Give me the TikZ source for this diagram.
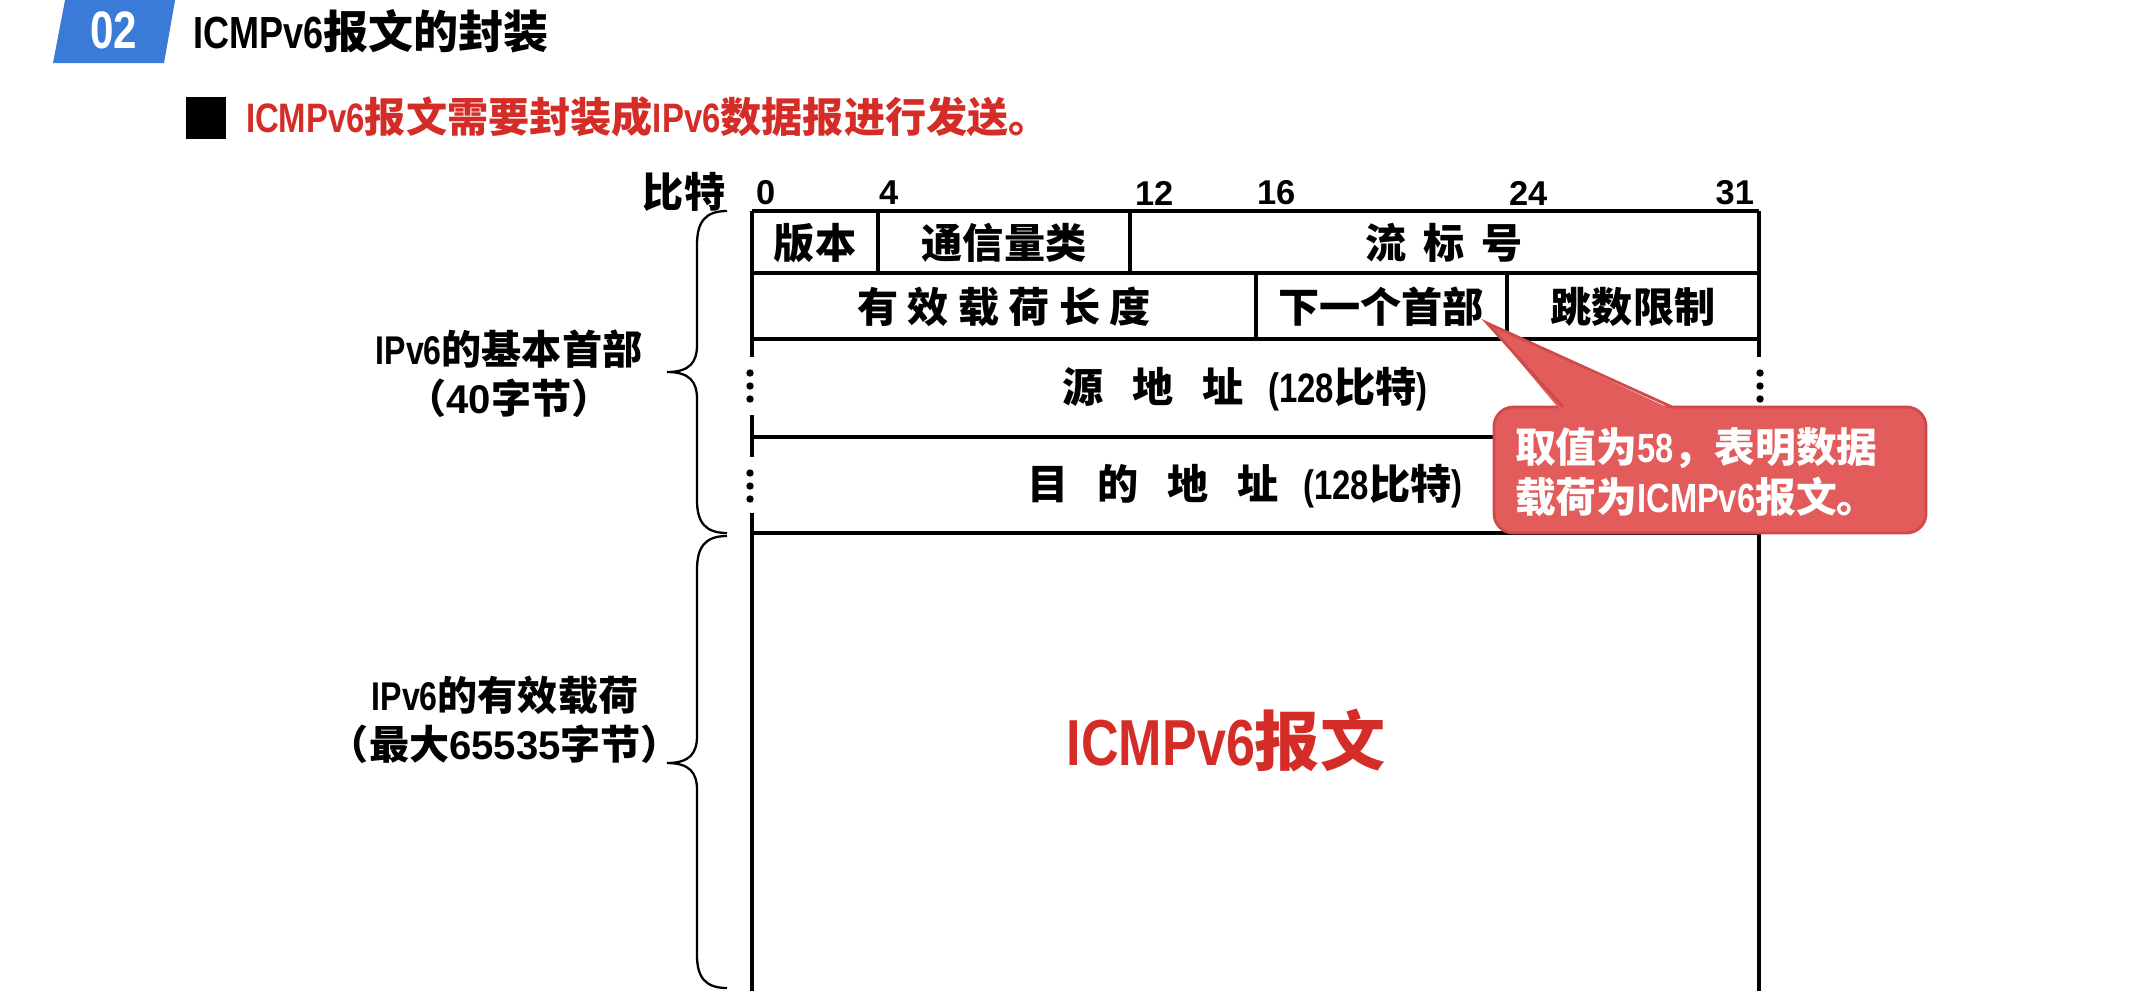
\documentclass[tikz,border=0pt]{standalone}
\usepackage{fontspec}
\setmainfont{Noto Sans CJK SC}
\newfontfamily\nar{Liberation Sans}[FakeStretch=0.8]
\newfontfamily\lib{Liberation Sans}
\definecolor{tagblue}{HTML}{3A7BD8}
\definecolor{txtred}{HTML}{D42D27}
\definecolor{calfill}{HTML}{E35C5C}
\definecolor{caledge}{HTML}{CF4A4A}
\tikzset{
  tbl/.style={line width=1pt, black},
  brc/.style={line width=0.65pt, black},
  cell/.style={font=\fontsize{11.7}{14}\selectfont\bfseries},
  bitnum/.style={font=\lib\bfseries\fontsize{9.8}{11}\selectfont},
  sidelbl/.style={font=\fontsize{11.4}{14}\selectfont\bfseries, align=center},
  vdot/.style={fill=black, circle, minimum size=2.1pt, inner sep=0}
}
\begin{document}
\begin{tikzpicture}[x=0.01cm, y=-0.01cm, every node/.style={inner sep=0, outer sep=0}]
\useasboundingbox (0,0) rectangle (2133,990);
\clip (0,0) rectangle (2133,990);
% header tag
\fill[tagblue] (66,-5) -- (176,-5) -- (164,63) -- (53,63) -- cycle;
\node[text=white, font=\nar\bfseries\fontsize{15}{15}\selectfont] (tagnum) at (114,30) {02};
\node[anchor=west, font=\fontsize{12.8}{15}\selectfont\bfseries] (title) at (193,31) {{\nar ICMPv6}报文的封装};
% subtitle
\fill (186,97) rectangle (226,139);
\node[anchor=west, text=txtred, font=\fontsize{11.7}{14}\selectfont\bfseries] (sub) at (246,117) {{\nar ICMPv6}报文需要封装成{\nar IPv6}数据报进行发送。};
% bit ruler
\node[cell] (bits) at (684,192) {比特};
\node[bitnum, anchor=west] (b0) at (756,193) {0};
\node[bitnum, anchor=west] (b4) at (879,193) {4};
\node[bitnum, anchor=west] (b12) at (1135,193) {12};
\node[bitnum, anchor=west] (b16) at (1257,193) {16};
\node[bitnum, anchor=west] (b24) at (1509,193) {24};
\node[bitnum, anchor=east] (b31) at (1754,193) {31};
% table horizontal lines
\draw[tbl] (752,211) -- (1759,211);
\draw[tbl] (752,273) -- (1759,273);
\draw[tbl] (752,339) -- (1759,339);
\draw[tbl] (752,437) -- (1759,437);
\draw[tbl] (752,533) -- (1759,533);
% left edge with breaks
\draw[tbl] (752,211) -- (752,357);
\draw[tbl] (752,415) -- (752,457);
\draw[tbl] (752,513) -- (752,1000);
% right edge with break
\draw[tbl] (1759,211) -- (1759,357);
\draw[tbl] (1759,415) -- (1759,1000);
% inner dividers
\draw[tbl] (878,211) -- (878,273);
\draw[tbl] (1130,211) -- (1130,273);
\draw[tbl] (1256,273) -- (1256,339);
\draw[tbl] (1507,273) -- (1507,339);
% dots
\foreach \yy [count=\i] in {373,386,399} {
  \node[vdot] (ldA\i) at (750,\yy) {};
  \node[vdot] (rdA\i) at (1760,\yy) {};
}
\foreach \yy [count=\i] in {473,486,499} {
  \node[vdot] (ldB\i) at (750,\yy) {};
}
% cell texts
\node[cell] (ver) at (815,243) {版本};
\node[cell] (tc) at (1004,243) {通信量类};
\node[cell] (fl) at (1444,243) {流\hspace{0.42em}标\hspace{0.42em}号};
\node[cell] (plen) at (1004,307) {有 效 载 荷 长 度};
\node[cell] (nh) at (1381,307) {下一个首部};
\node[cell] (hl) at (1633,307) {跳数限制};
\node[cell] (src) at (1245,389) {源\hspace{0.7em}地\hspace{0.7em}址\hspace{0.6em}{\nar(128}比特{\nar)}};
\node[cell] (dst) at (1245,486) {目\hspace{0.7em}的\hspace{0.7em}地\hspace{0.7em}址\hspace{0.6em}{\nar(128}比特{\nar)}};
% payload
\node[text=txtred, font=\fontsize{18.5}{20}\selectfont\bfseries] (icmp) at (1226,740) {{\nar ICMPv6}报文};
% braces
\draw[brc] (727,211) .. controls (705,211) and (697,222) .. (697,245) -- (697,345)
  .. controls (697,362) and (690,372) .. (667,372)
  .. controls (690,372) and (697,382) .. (697,399) -- (697,500)
  .. controls (697,522) and (705,533) .. (727,533);
\draw[brc] (727,536) .. controls (705,536) and (697,547) .. (697,570) -- (697,736)
  .. controls (697,753) and (690,763) .. (667,763)
  .. controls (690,763) and (697,773) .. (697,790) -- (697,955)
  .. controls (697,977) and (705,988) .. (727,988);
\node[sidelbl] (hdrlbl) at (509,374) {{\nar IPv6}的基本首部\\（{\lib 40}字节）};
\node[sidelbl] (paylbl) at (505,720) {{\nar IPv6}的有效载荷\\（最大{\lib 65535}字节）};
% callout
\draw[draw=caledge, fill=calfill, line width=0.8pt, rounded corners=5.5pt] (1494,407) rectangle (1926,533);
\fill[calfill] (1561,411) -- (1487,323) -- (1675,411) -- cycle;
\draw[caledge, line width=0.8pt] (1563,407) -- (1487,323) -- (1672,407);
\node[anchor=west, text=white, align=left, font=\fontsize{11.6}{14.2}\selectfont\bfseries] (caltxt) at (1515,472) {取值为{\nar 58}，表明数据\\载荷为{\nar ICMPv6}报文。};
\end{tikzpicture}
\end{document}
